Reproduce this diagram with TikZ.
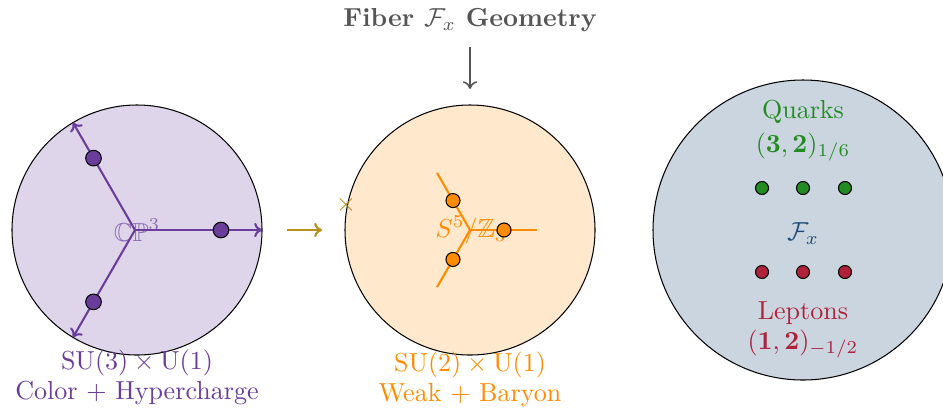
\documentclass[tikz,border=0pt]{standalone}
\usepackage{amssymb}
\usetikzlibrary{arrows.meta}
\definecolor{cpurple}{HTML}{6A3D9A}
\definecolor{clav}{HTML}{DFD5EA}
\definecolor{corange}{HTML}{FF8C00}
\definecolor{cpeach}{HTML}{FFE8CC}
\definecolor{cgold}{HTML}{B8901A}
\definecolor{cslate}{HTML}{CBD5E0}
\definecolor{cgreen}{HTML}{228B22}
\definecolor{cred}{HTML}{B0223A}
\definecolor{cnavy}{HTML}{1F4E79}
\definecolor{cgray}{HTML}{555555}
\tikzset{
  disc/.style={circle, draw=black, line width=0.4pt, minimum size=#1*0.384pt, inner sep=0pt},
  bigdot/.style={circle, draw=black, line width=0.4pt, minimum size=6pt, inner sep=0pt},
  meddot/.style={circle, draw=black, line width=0.4pt, minimum size=5.4pt, inner sep=0pt},
  smalldot/.style={circle, draw=black, line width=0.4pt, minimum size=5pt, inner sep=0pt},
  lbl/.style={align=center, inner sep=0pt},
  tip/.style={-{To[length=3pt,width=5.5pt]}},
}
\begin{document}
\begin{tikzpicture}[x=0.384pt, y=-0.384pt]
\useasboundingbox (0,0) rectangle (943,412);
% ---------- title ----------
\node[lbl, text=cgray, font=\bfseries] (title) at (470,20) {Fiber $\mathcal{F}_x$ Geometry};
\coordinate (tarrs) at (470,47);
\coordinate (tarre) at (470,89);
\draw[cgray, line width=0.6pt, tip] (tarrs) -- (tarre);
% ---------- left disc ----------
\node[disc=250, fill=clav] (L) at (137,230) {};
\node[lbl, text=cpurple!75] (Lc) at (137,230) {$\mathbb{CP}^3$};
\coordinate (Lo) at (135,230);
\path (Lo) ++(120:124) coordinate (L1) (Lo) ++(0:127) coordinate (L2) (Lo) ++(-120:124) coordinate (L3);
\draw[cpurple, line width=0.8pt, tip] (Lo) -- (L1);
\draw[cpurple, line width=0.8pt, tip] (Lo) -- (L2);
\draw[cpurple, line width=0.8pt, tip] (Lo) -- (L3);
\path (Lo) ++(120:83) node[bigdot, fill=cpurple] (Ld1) {};
\path (Lo) ++(0:86) node[bigdot, fill=cpurple] (Ld2) {};
\path (Lo) ++(-120:83) node[bigdot, fill=cpurple] (Ld3) {};
\node[lbl, text=cpurple] (Lt1) at (137,363) {$\mathrm{SU}(3)\times\mathrm{U}(1)$};
\node[lbl, text=cpurple] (Lt2) at (137,393) {Color + Hypercharge};
% ---------- middle disc ----------
\node[disc=250, fill=cpeach] (M) at (470,230) {};
\node[lbl, text=corange] (Mc) at (471,230) {$S^5/\mathbb{Z}_3$};
\coordinate (Mo) at (470,230);
\path (Mo) ++(120:66) coordinate (M1) (Mo) ++(0:67) coordinate (M2) (Mo) ++(-120:66) coordinate (M3);
\draw[corange, line width=0.8pt] (Mo) -- (M1);
\draw[corange, line width=0.8pt] (Mo) -- (M2);
\draw[corange, line width=0.8pt] (Mo) -- (M3);
\path (Mo) ++(120:34) node[meddot, fill=corange] (Md1) {};
\path (Mo) ++(0:34) node[meddot, fill=corange] (Md2) {};
\path (Mo) ++(-120:34) node[meddot, fill=corange] (Md3) {};
\node[lbl, text=corange] (Mt1) at (470,365) {$\mathrm{SU}(2)\times\mathrm{U}(1)$};
\node[lbl, text=corange] (Mt2) at (470,395) {Weak + Baryon};
% ---------- arrow and cross ----------
\coordinate (gs) at (287,230);
\coordinate (ge) at (322,230);
\draw[cgold, line width=0.8pt, tip] (gs) -- (ge);
\node[lbl, text=cgold] (gx) at (346,205) {$\times$};
% ---------- right disc ----------
\node[disc=300, fill=cslate] (R) at (803,230) {};
\node[lbl, text=cgreen] (Rq) at (803,112) {Quarks};
\node[lbl, text=cgreen] (Rq2) at (803,147) {$(\mathbf{3},\mathbf{2})_{1/6}$};
\node[smalldot, fill=cgreen] (g1) at (762,188) {};
\node[smalldot, fill=cgreen] (g2) at (803,188) {};
\node[smalldot, fill=cgreen] (g3) at (845,188) {};
\node[lbl, text=cnavy] (RF) at (803,234) {$\mathcal{F}_x$};
\node[smalldot, fill=cred] (r1) at (762,272) {};
\node[smalldot, fill=cred] (r2) at (803,272) {};
\node[smalldot, fill=cred] (r3) at (845,272) {};
\node[lbl, text=cred] (Rl) at (803,313) {Leptons};
\node[lbl, text=cred] (Rl2) at (803,344) {$(\mathbf{1},\mathbf{2})_{-1/2}$};
\end{tikzpicture}
\end{document}
